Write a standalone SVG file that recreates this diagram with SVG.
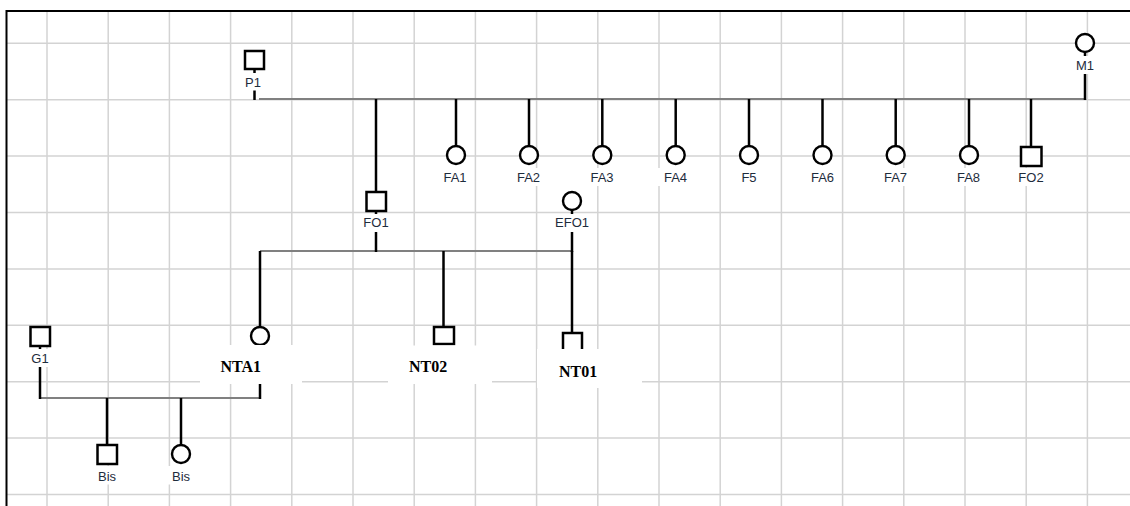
<svg xmlns="http://www.w3.org/2000/svg" width="1130" height="506" viewBox="0 0 1130 506">
<defs>
<style>
.grid line{stroke:#d3d3d3;stroke-width:1.5}
.stem{stroke:#000;stroke-width:2.5;fill:none}
.mate{stroke:#808080;stroke-width:2.2;fill:none}
.sq{fill:#fff;stroke:#000;stroke-width:2.5}
.ci{fill:#fff;stroke:#000;stroke-width:2.4}
.lb{fill:#fff;stroke:none}
.lt{font-family:"Liberation Sans",Arial,sans-serif;font-size:13px;fill:#1e2c3c;text-anchor:middle}
.bt{font-family:"Liberation Serif","Times New Roman",serif;font-size:16px;font-weight:bold;fill:#000}
</style>
</defs>
<rect x="0" y="0" width="1130" height="506" fill="#fff"/>
<g class="grid">
<line x1="47" y1="11" x2="47" y2="506"/>
<line x1="108.2" y1="11" x2="108.2" y2="506"/>
<line x1="169.4" y1="11" x2="169.4" y2="506"/>
<line x1="230.6" y1="11" x2="230.6" y2="506"/>
<line x1="291.8" y1="11" x2="291.8" y2="506"/>
<line x1="353" y1="11" x2="353" y2="506"/>
<line x1="414.2" y1="11" x2="414.2" y2="506"/>
<line x1="475.4" y1="11" x2="475.4" y2="506"/>
<line x1="536.6" y1="11" x2="536.6" y2="506"/>
<line x1="597.8" y1="11" x2="597.8" y2="506"/>
<line x1="659" y1="11" x2="659" y2="506"/>
<line x1="720.2" y1="11" x2="720.2" y2="506"/>
<line x1="781.4" y1="11" x2="781.4" y2="506"/>
<line x1="842.6" y1="11" x2="842.6" y2="506"/>
<line x1="903.8" y1="11" x2="903.8" y2="506"/>
<line x1="965" y1="11" x2="965" y2="506"/>
<line x1="1026.2" y1="11" x2="1026.2" y2="506"/>
<line x1="1087.4" y1="11" x2="1087.4" y2="506"/>
<line x1="6" y1="43.3" x2="1130" y2="43.3"/>
<line x1="6" y1="99.7" x2="1130" y2="99.7"/>
<line x1="6" y1="156.1" x2="1130" y2="156.1"/>
<line x1="6" y1="212.5" x2="1130" y2="212.5"/>
<line x1="6" y1="268.9" x2="1130" y2="268.9"/>
<line x1="6" y1="325.3" x2="1130" y2="325.3"/>
<line x1="6" y1="381.7" x2="1130" y2="381.7"/>
<line x1="6" y1="438.1" x2="1130" y2="438.1"/>
<line x1="6" y1="494.5" x2="1130" y2="494.5"/>
</g>
<path d="M6.5 506 V11 H1130" fill="none" stroke="#000" stroke-width="2"/>
<g id="connectors">
<line class="mate" x1="259" y1="99" x2="1085" y2="99"/>
<line class="stem" x1="254.5" y1="69" x2="254.5" y2="100"/>
<line class="stem" x1="1085" y1="52" x2="1085" y2="100"/>
<line class="stem" x1="376" y1="99" x2="376" y2="192"/>
<line class="stem" x1="456" y1="99" x2="456" y2="146"/>
<line class="stem" x1="529" y1="99" x2="529" y2="146"/>
<line class="stem" x1="602.3" y1="99" x2="602.3" y2="146"/>
<line class="stem" x1="675.7" y1="99" x2="675.7" y2="146"/>
<line class="stem" x1="749" y1="99" x2="749" y2="146"/>
<line class="stem" x1="822.5" y1="99" x2="822.5" y2="146"/>
<line class="stem" x1="895.7" y1="99" x2="895.7" y2="146"/>
<line class="stem" x1="969" y1="99" x2="969" y2="146"/>
<line class="stem" x1="1031" y1="99" x2="1031" y2="147"/>
<line class="mate" x1="260" y1="251" x2="572" y2="251"/>
<line class="stem" x1="376" y1="211" x2="376" y2="252"/>
<line class="stem" x1="572" y1="210" x2="572" y2="252"/>
<line class="stem" x1="260" y1="251" x2="260" y2="327"/>
<line class="stem" x1="443.5" y1="251" x2="443.5" y2="327"/>
<line class="stem" x1="572" y1="251" x2="572" y2="333"/>
<line class="mate" x1="40" y1="398" x2="260" y2="398"/>
<line class="stem" x1="40" y1="346" x2="40" y2="399"/>
<line class="stem" x1="260" y1="345" x2="260" y2="399"/>
<line class="stem" x1="107" y1="398" x2="107" y2="445"/>
<line class="stem" x1="181" y1="398" x2="181" y2="445"/>
</g>
<g id="P1"><rect class="sq" x="245" y="51" width="19" height="18"/><rect class="lb" x="242" y="73" width="25" height="17.5"/><text class="lt" x="253" y="86.5">P1</text></g>
<g id="M1"><circle class="ci" cx="1085" cy="43" r="9"/><rect class="lb" x="1071" y="56" width="28" height="18"/><text class="lt" x="1085" y="69.5">M1</text></g>
<g id="FA1"><circle class="ci" cx="456" cy="155" r="9"/><rect class="lb" x="438" y="168" width="35" height="18"/><text class="lt" x="455" y="182">FA1</text></g>
<g id="FA2"><circle class="ci" cx="529" cy="155" r="9"/><rect class="lb" x="511" y="168" width="35" height="18"/><text class="lt" x="528.5" y="182">FA2</text></g>
<g id="FA3"><circle class="ci" cx="602.3" cy="155" r="9"/><rect class="lb" x="584" y="168" width="35" height="18"/><text class="lt" x="602" y="182">FA3</text></g>
<g id="FA4"><circle class="ci" cx="675.7" cy="155" r="9"/><rect class="lb" x="658" y="168" width="35" height="18"/><text class="lt" x="675.5" y="182">FA4</text></g>
<g id="F5"><circle class="ci" cx="749" cy="155" r="9"/><rect class="lb" x="737" y="168" width="24" height="18"/><text class="lt" x="749" y="182">F5</text></g>
<g id="FA6"><circle class="ci" cx="822.5" cy="155" r="9"/><rect class="lb" x="805" y="168" width="35" height="18"/><text class="lt" x="822.5" y="182">FA6</text></g>
<g id="FA7"><circle class="ci" cx="895.7" cy="155" r="9"/><rect class="lb" x="878" y="168" width="35" height="18"/><text class="lt" x="895.5" y="182">FA7</text></g>
<g id="FA8"><circle class="ci" cx="969" cy="155" r="9"/><rect class="lb" x="951" y="168" width="35" height="18"/><text class="lt" x="968.5" y="182">FA8</text></g>
<g id="FO2"><rect class="sq" x="1021" y="147" width="20.5" height="19"/><rect class="lb" x="1013" y="168" width="36" height="18"/><text class="lt" x="1031" y="182">FO2</text></g>
<g id="FO1"><rect class="sq" x="366.5" y="192" width="19.5" height="19"/><rect class="lb" x="358" y="214" width="36" height="18"/><text class="lt" x="376" y="226.5">FO1</text></g>
<g id="EFO1"><circle class="ci" cx="572" cy="201" r="9"/><rect class="lb" x="551" y="214" width="42" height="18"/><text class="lt" x="572" y="226.5">EFO1</text></g>
<g id="G1"><rect class="sq" x="30.5" y="327" width="19.5" height="19"/><rect class="lb" x="27" y="349" width="26" height="18"/><text class="lt" x="40" y="363">G1</text></g>
<g id="NTA1"><circle class="ci" cx="260" cy="336" r="9"/><rect class="lb" x="200" y="345" width="102" height="39"/><text class="bt" x="220.5" y="372">NTA1</text></g>
<g id="NT02"><rect class="sq" x="434" y="327" width="20" height="17"/><rect class="lb" x="388" y="345.5" width="104" height="38.5"/><text class="bt" x="409" y="372">NT02</text></g>
<g id="NT01"><rect class="sq" x="563" y="333" width="19" height="20"/><rect class="lb" x="537" y="349" width="105" height="39"/><text class="bt" x="559" y="376.5">NT01</text></g>
<g id="Bis1"><rect class="sq" x="97.5" y="445" width="19.5" height="19"/><rect class="lb" x="92" y="466" width="30" height="18.5"/><text class="lt" x="107" y="480.5">Bis</text></g>
<g id="Bis2"><circle class="ci" cx="181" cy="454" r="9"/><rect class="lb" x="166" y="466" width="30" height="18.5"/><text class="lt" x="181" y="480.5">Bis</text></g>
</svg>
